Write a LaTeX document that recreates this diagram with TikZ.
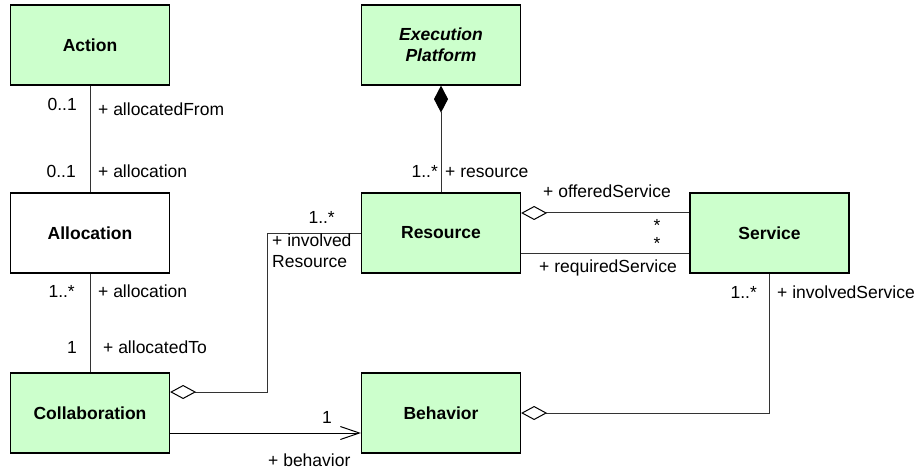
\documentclass[tikz,border=0pt]{standalone}
\usepackage{fontspec}
\setmainfont{Liberation Sans}
\usetikzlibrary{arrows.meta}
\definecolor{boxgreen}{HTML}{CCFFCC}
\definecolor{linegray}{HTML}{333333}
\begin{document}
\begin{tikzpicture}[x=1pt,y=-1pt,
  cls/.style={draw=black,line width=1.2pt,fill=boxgreen,minimum width=159pt,minimum height=80pt,inner sep=0pt,
    font=\fontsize{17.5}{21}\selectfont\bfseries,align=center},
  wcls/.style={cls,fill=white},
  lbl/.style={inner sep=0pt,font=\fontsize{17.5}{21}\selectfont},
  conn/.style={draw=linegray,line width=1pt},
  aggstart/.style={{Diamond[open,length=26pt,width=14pt,line width=1pt,color=black]}-},
  compstart/.style={{Diamond[length=27pt,width=14pt,color=black,fill=black]}-},
  navend/.style={-{Straight Barb[length=19pt,width=13pt,line width=1pt,color=black]}}
]
\useasboundingbox[fill=white] (0,0) rectangle (917,470);

\node[cls] (act) at (90,45) {Action};
\node[wcls] (alloc) at (90,233) {Allocation};
\node[cls] (coll) at (90,413) {Collaboration};
\node[cls,font=\fontsize{17.5}{21}\selectfont\bfseries\itshape] (exe) at (441,45) {Execution\\Platform};
\node[cls] (res) at (441,233) {Resource};
\node[cls] (serv) at (769.5,233) {Service};
\node[cls] (beh) at (441,413) {Behavior};

\coordinate (bendres) at (267,233);

% connectors
\draw[conn] (act.south) -- (alloc.north);
\draw[conn] (alloc.south) -- (coll.north);
\draw[conn,compstart] (exe.south) -- (res.north);
\draw[conn,aggstart] ([yshift=20pt]res.east) -- ([yshift=20pt]serv.west);
\draw[conn] ([yshift=-20pt]res.east) -- ([yshift=-20pt]serv.west);
\draw[conn,aggstart] ([yshift=21pt]coll.east) -| (bendres) -- (res.west);
\draw[conn,navend,draw=black] ([yshift=-20pt]coll.east) -- ([yshift=-20pt]beh.west);
\draw[conn,aggstart] (beh.east) -| (serv.south);

% labels
\node[lbl,anchor=base east] (m1) at (77,111) {0..1};
\node[lbl,anchor=base west] (r1) at (98,116) {+ allocatedFrom};
\node[lbl,anchor=base east] (m2) at (76,178) {0..1};
\node[lbl,anchor=base west] (r2) at (98,178) {+ allocation};
\node[lbl,anchor=base east] (m3) at (75,297) {1..*};
\node[lbl,anchor=base west] (r3) at (98,297) {+ allocation};
\node[lbl,anchor=base east] (m4) at (77,353) {1};
\node[lbl,anchor=base west] (r4) at (103,353) {+ allocatedTo};
\node[lbl,anchor=base east] (m5) at (335,223) {1..*};
\node[lbl,anchor=north west,align=left] (r5) at (272,234) {+ involved\\Resource};
\node[lbl,anchor=base east] (m6) at (438,178) {1..*};
\node[lbl,anchor=base west] (r6) at (445,178) {+ resource};
\node[lbl,anchor=base west] (r7) at (543,198) {+ offeredService};
\node[lbl,anchor=base] (m7) at (657,232) {*};
\node[lbl,anchor=base] (m8) at (657,249) {*};
\node[lbl,anchor=base west] (r8) at (539,272) {+ requiredService};
\node[lbl,anchor=base east] (m9) at (757,298) {1..*};
\node[lbl,anchor=base west] (r9) at (777,298) {+ involvedService};
\node[lbl,anchor=base east] (m10) at (332,423) {1};
\node[lbl,anchor=base west] (r10) at (268,466) {+ behavior};
\end{tikzpicture}
\end{document}
